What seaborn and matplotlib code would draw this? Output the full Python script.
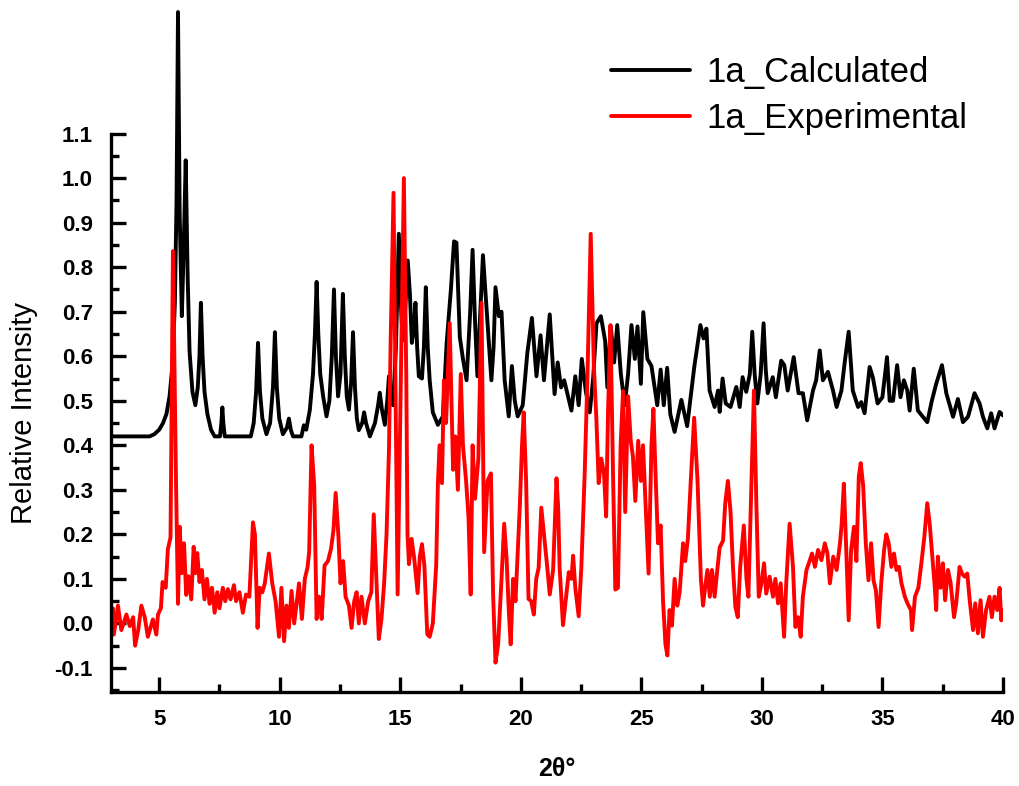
import matplotlib
matplotlib.use("Agg")
import matplotlib.pyplot as plt
from matplotlib.ticker import MultipleLocator
import seaborn as sns
import pandas as pd

# ---- data ----
calc_x = [3.0, 4.6, 4.8, 5.0, 5.16, 5.3, 5.43, 5.55, 5.65, 5.72, 5.78, 5.85, 5.94, 6.02, 6.1, 6.18,
          6.26, 6.38, 6.5, 6.6, 6.67, 6.73, 6.8, 6.88, 7.0, 7.15, 7.3, 7.52, 7.58, 7.62, 7.66, 7.72,
          8.8, 8.92, 9.02, 9.1, 9.18, 9.28, 9.45, 9.6, 9.72, 9.8, 9.88, 9.98, 10.13, 10.3, 10.38,
          10.46, 10.55, 10.9, 11.0, 11.1, 11.25, 11.38, 11.46, 11.53, 11.6, 11.68, 11.8, 11.94,
          12.06, 12.16, 12.25, 12.33, 12.42, 12.52, 12.62, 12.7, 12.78, 12.87, 12.96, 13.04, 13.12,
          13.2, 13.28, 13.42, 13.5, 13.58, 13.74, 13.95, 14.08, 14.15, 14.24, 14.36, 14.46, 14.53,
          14.62, 14.7, 14.82, 14.94, 15.04, 15.1, 15.2, 15.31, 15.4, 15.48, 15.56, 15.63, 15.7,
          15.77, 15.9, 15.98, 16.06, 16.14, 16.22, 16.35, 16.56, 16.77, 16.92, 17.1, 17.23, 17.33,
          17.47, 17.6, 17.75, 17.9, 18.0, 18.1, 18.2, 18.32, 18.43, 18.58, 18.78, 18.87, 18.95,
          19.09, 19.2, 19.33, 19.5, 19.63, 19.75, 19.87, 20.08, 20.27, 20.46, 20.65, 20.82, 20.96,
          21.2, 21.4, 21.53, 21.67, 21.8, 22.1, 22.26, 22.4, 22.53, 22.7, 22.86, 23.0, 23.14, 23.32,
          23.5, 23.59, 23.73, 23.87, 24.0, 24.15, 24.31, 24.45, 24.59, 24.73, 24.84, 24.98, 25.08,
          25.25, 25.42, 25.66, 25.8, 25.93, 26.07, 26.2, 26.38, 26.66, 26.9, 27.2, 27.45, 27.58,
          27.7, 27.83, 28.04, 28.18, 28.25, 28.37, 28.5, 28.7, 28.94, 29.08, 29.2, 29.35, 29.5,
          29.6, 29.7, 29.81, 29.95, 30.07, 30.16, 30.24, 30.45, 30.58, 30.8, 30.93, 31.07, 31.32,
          31.52, 31.7, 31.88, 32.12, 32.25, 32.4, 32.53, 32.74, 32.95, 33.1, 33.3, 33.43, 33.6,
          33.77, 33.99, 34.12, 34.26, 34.47, 34.6, 34.8, 35.0, 35.19, 35.3, 35.44, 35.61, 35.75,
          35.89, 36.03, 36.13, 36.3, 36.47, 36.68, 36.86, 37.05, 37.23, 37.47, 37.65, 37.93, 38.13,
          38.34, 38.55, 38.82, 39.03, 39.17, 39.35, 39.51, 39.65, 39.86, 40.0]
calc_y = [0.42, 0.42, 0.425, 0.435, 0.45, 0.47, 0.51, 0.58, 0.72, 0.95, 1.373, 0.92, 0.69, 0.85, 1.04, 0.78,
          0.61, 0.52, 0.49, 0.53, 0.60, 0.72, 0.60, 0.52, 0.47, 0.435, 0.42, 0.42, 0.45, 0.485, 0.45, 0.42,
          0.42, 0.45, 0.52, 0.63, 0.52, 0.46, 0.425, 0.45, 0.53, 0.654, 0.53, 0.46, 0.425, 0.44, 0.46,
          0.435, 0.42, 0.42, 0.445, 0.435, 0.48, 0.56, 0.65, 0.767, 0.65, 0.56, 0.51, 0.465,
          0.50, 0.60, 0.75, 0.60, 0.51, 0.56, 0.74, 0.60, 0.51, 0.48, 0.54, 0.654, 0.53,
          0.46, 0.434, 0.45, 0.474, 0.45, 0.42, 0.45, 0.49, 0.518, 0.48, 0.446, 0.50, 0.555,
          0.51, 0.49, 0.62, 0.875, 0.70, 0.636, 0.70, 0.815, 0.74, 0.63, 0.66, 0.72, 0.62,
          0.555, 0.55, 0.62, 0.755, 0.62, 0.546, 0.474, 0.446, 0.465, 0.627, 0.75, 0.858, 0.855,
          0.643, 0.594, 0.546, 0.70, 0.839, 0.68, 0.555, 0.70, 0.827, 0.707, 0.546, 0.62, 0.755,
          0.69, 0.70, 0.546, 0.465, 0.578, 0.50, 0.465, 0.49, 0.607, 0.686, 0.555, 0.647, 0.546,
          0.694, 0.515, 0.586, 0.53, 0.546, 0.478, 0.555, 0.49, 0.594, 0.52, 0.474, 0.55, 0.674, 0.69,
          0.634, 0.53, 0.667, 0.586, 0.67, 0.56, 0.49, 0.56, 0.67, 0.594, 0.667, 0.538, 0.699,
          0.594, 0.578, 0.49, 0.57, 0.49, 0.574, 0.47, 0.43, 0.502, 0.443, 0.578, 0.67, 0.64,
          0.662, 0.523, 0.486, 0.523, 0.475, 0.55, 0.494, 0.486, 0.531, 0.486, 0.553, 0.52, 0.56,
          0.655, 0.56, 0.494, 0.56, 0.674, 0.57, 0.517, 0.553, 0.508, 0.59, 0.58, 0.523, 0.598,
          0.517, 0.517, 0.456, 0.523, 0.546, 0.613, 0.546, 0.565, 0.523, 0.486, 0.523, 0.584, 0.655,
          0.523, 0.486, 0.497, 0.472, 0.576, 0.553, 0.494, 0.508, 0.598, 0.50, 0.50, 0.58, 0.508,
          0.546, 0.523, 0.478, 0.572, 0.478, 0.464, 0.452, 0.50, 0.538, 0.58, 0.517, 0.464, 0.504,
          0.452, 0.464, 0.517, 0.494, 0.464, 0.438, 0.472, 0.438, 0.475, 0.467]

exp_x = [3.0, 3.08, 3.12, 3.29, 3.43, 3.64, 3.78, 3.92, 4.0, 4.13, 4.26, 4.4, 4.53, 4.74, 4.88, 4.95,
         5.07, 5.14, 5.27, 5.36, 5.47, 5.57, 5.70, 5.78, 5.85, 5.94, 6.03, 6.12, 6.21, 6.33, 6.43,
         6.5, 6.58, 6.67, 6.77, 6.88, 6.98, 7.09, 7.19, 7.3, 7.41, 7.5, 7.64, 7.74, 7.85, 7.96, 8.1,
         8.19, 8.33, 8.47, 8.6, 8.74, 8.89, 8.97, 9.08, 9.17, 9.28, 9.38, 9.55, 9.69, 9.83, 9.97,
         10.07, 10.18, 10.28, 10.38, 10.49, 10.6, 10.69, 10.8, 10.92, 11.04, 11.15, 11.22, 11.32,
         11.43, 11.53, 11.63, 11.74, 11.86, 12.0, 12.13, 12.23, 12.32, 12.43, 12.52, 12.63, 12.73,
         12.87, 12.98, 13.09, 13.19, 13.28, 13.39, 13.53, 13.67, 13.8, 13.9, 14.0, 14.11, 14.22,
         14.33, 14.43, 14.53, 14.6, 14.72, 14.8, 14.89, 14.98, 15.15, 15.25, 15.3, 15.36, 15.47,
         15.58, 15.72, 15.81, 15.9, 16.0, 16.12, 16.22, 16.35, 16.49, 16.56, 16.63, 16.73, 16.81,
         16.9, 17.05, 17.19, 17.28, 17.39, 17.51, 17.6, 17.73, 17.83, 17.92, 18.0, 18.1, 18.24,
         18.37, 18.48, 18.62, 18.76, 18.85, 18.95, 19.06, 19.2, 19.31, 19.41, 19.5, 19.58, 19.68,
         19.78, 19.96, 20.05, 20.12, 20.22, 20.32, 20.43, 20.54, 20.64, 20.74, 20.85, 20.99, 21.1,
         21.2, 21.34, 21.48, 21.55, 21.61, 21.75, 21.89, 21.99, 22.1, 22.17, 22.26, 22.4, 22.51,
         22.65, 22.76, 22.9, 23.03, 23.13, 23.23, 23.34, 23.45, 23.54, 23.62, 23.72, 23.83, 23.92,
         24.03, 24.14, 24.24, 24.33, 24.45, 24.56, 24.65, 24.75, 24.87, 24.98, 25.07, 25.17, 25.3,
         25.42, 25.5, 25.58, 25.69, 25.8, 25.9, 26.0, 26.08, 26.17, 26.27, 26.38, 26.49, 26.59,
         26.73, 26.82, 26.93, 27.05, 27.19, 27.33, 27.47, 27.56, 27.63, 27.74, 27.84, 27.93, 28.04,
         28.15, 28.25, 28.39, 28.48, 28.59, 28.7, 28.8, 28.9, 29.0, 29.1, 29.25, 29.36, 29.44,
         29.55, 29.67, 29.77, 29.87, 29.98, 30.09, 30.18, 30.32, 30.46, 30.56, 30.67, 30.78, 30.92,
         31.01, 31.15, 31.29, 31.39, 31.5, 31.61, 31.7, 31.85, 31.99, 32.08, 32.2, 32.33, 32.47,
         32.61, 32.72, 32.82, 32.96, 33.1, 33.24, 33.31, 33.4, 33.5, 33.6, 33.7, 33.82, 33.92,
         34.02, 34.1, 34.2, 34.31, 34.42, 34.53, 34.63, 34.73, 34.84, 34.95, 35.07, 35.16, 35.26,
         35.37, 35.48, 35.58, 35.69, 35.79, 35.93, 36.04, 36.18, 36.23, 36.35, 36.49, 36.63, 36.74,
         36.86, 36.96, 37.05, 37.16, 37.23, 37.3, 37.41, 37.51, 37.6, 37.72, 37.83, 37.97, 38.06,
         38.2, 38.3, 38.41, 38.52, 38.62, 38.76, 38.85, 38.96, 39.07, 39.17, 39.3, 39.44, 39.54,
         39.65, 39.76, 39.86, 39.93, 40.0]
exp_y = [0.0, 0.034, -0.025, 0.04, -0.015, 0.02, -0.006, 0.014, -0.05, -0.015, 0.04, 0.014, -0.03, 0.009, -0.025, 0.02,
         0.034, 0.093, 0.08, 0.167, 0.193, 0.836, 0.31, 0.044, 0.217, 0.113, 0.18, 0.064, 0.106, 0.054, 0.172,
         0.113, 0.158, 0.093, 0.12, 0.054, 0.10, 0.044, 0.08, 0.024, 0.07, 0.034, 0.08, 0.05, 0.077, 0.054, 0.086,
         0.05, 0.07, 0.024, 0.065, 0.06, 0.227, 0.20, -0.01, 0.08, 0.07, 0.09, 0.157, 0.09, 0.049, -0.03,
         0.08, -0.04, 0.04, -0.01, 0.073, 0.0, 0.04, 0.09, 0.01, 0.10, 0.125, 0.16, 0.40,
         0.31, 0.01, 0.06, 0.01, 0.13, 0.14, 0.168, 0.21, 0.293, 0.20, 0.09, 0.14, 0.06,
         0.04, -0.01, 0.05, 0.07, 0.0, 0.06, 0.0, 0.05, 0.07, 0.245, 0.11, -0.035, 0.01,
         0.09, 0.2, 0.387, 0.63, 0.967, 0.55, 0.065, 0.39, 1.0, 0.55, 0.20, 0.133, 0.19,
         0.145, 0.068, 0.15, 0.178, 0.13, -0.024, -0.03, 0.0, 0.13, 0.313, 0.40, 0.315, 0.546,
         0.45, 0.674, 0.345, 0.42, 0.30, 0.56, 0.40, 0.32, 0.24, 0.065, 0.40, 0.28, 0.37,
         0.72, 0.16, 0.32, 0.337, 0.065, -0.088, -0.047, 0.1, 0.224, 0.145, 0.03, -0.047, 0.10,
         0.05, 0.265, 0.40, 0.474, 0.32, 0.055, 0.05, 0.02, 0.10, 0.125, 0.26, 0.185, 0.125,
         0.065, 0.12, 0.326, 0.26, 0.125, -0.004, 0.065, 0.115, 0.10, 0.152, 0.08, 0.016, 0.125,
         0.337, 0.546, 0.875, 0.578, 0.465, 0.315, 0.37, 0.337, 0.24, 0.48, 0.67, 0.32, 0.076,
         0.08, 0.40, 0.522, 0.25, 0.51, 0.41, 0.375, 0.275, 0.41, 0.32, 0.40, 0.275, 0.112,
         0.40, 0.482, 0.35, 0.18, 0.22, 0.05, -0.047, -0.072, 0.03, -0.005, 0.10, 0.04, 0.07,
         0.18, 0.14, 0.19, 0.32, 0.462, 0.32, 0.10, 0.04, 0.074, 0.12, 0.06, 0.12, 0.06,
         0.12, 0.171, 0.186, 0.27, 0.32, 0.25, 0.127, 0.037, 0.014, 0.127, 0.22, 0.10, 0.06,
         0.28, 0.523, 0.27, 0.06, 0.09, 0.135, 0.067, 0.105, 0.06, 0.10, 0.045, 0.09, -0.03,
         0.09, 0.224, 0.127, -0.008, 0.014, -0.03, 0.06, 0.12, 0.142, 0.157, 0.127, 0.165, 0.142,
         0.18, 0.157, 0.09, 0.15, 0.12, 0.18, 0.224, 0.314, 0.165, 0.007, 0.165, 0.217, 0.14,
         0.33, 0.36, 0.31, 0.18, 0.097, 0.18, 0.097, 0.074, -0.008, 0.09, 0.165, 0.2, 0.18,
         0.127, 0.157, 0.12, 0.127, 0.09, 0.06, 0.045, 0.03, -0.015, 0.06, 0.08, 0.142, 0.195,
         0.27, 0.224, 0.165, 0.09, 0.03, 0.15, 0.08, 0.135, 0.052, 0.12, 0.09, 0.014, 0.045,
         0.127, 0.112, 0.105, 0.112, 0.052, -0.015, 0.045, -0.022, 0.052, -0.03, 0.03, 0.06, 0.014,
         0.06, 0.03, 0.08, 0.007, 0.03]

series_names = ["1a_Calculated", "1a_Experimental"]
series_colors = ["#000000", "#ff0000"]
x_ticks = [5, 10, 15, 20, 25, 30, 35, 40]
y_ticks = [-0.1, 0.0, 0.1, 0.2, 0.3, 0.4, 0.5, 0.6, 0.7, 0.8, 0.9, 1.0, 1.1]

# ---- plotting ----
sns.set_theme(style="ticks")
plt.rcParams["font.family"] = ["Liberation Sans", "DejaVu Sans"]
plt.rcParams["lines.solid_joinstyle"] = "round"

fig = plt.figure(figsize=(10.2, 7.86), dpi=100)
ax = fig.add_axes([0.1088, 0.1196, 0.8745, 0.8804])

df_calc = pd.DataFrame({"x": calc_x, "y": calc_y})
df_exp = pd.DataFrame({"x": exp_x, "y": exp_y})
sns.lineplot(data=df_calc, x="x", y="y", ax=ax, color=series_colors[0], linewidth=2.8,
             label=series_names[0], estimator=None, sort=False)
sns.lineplot(data=df_exp, x="x", y="y", ax=ax, color=series_colors[1], linewidth=2.8,
             label=series_names[1], estimator=None, sort=False)

ax.set_xlim(3, 40)
ax.set_ylim(-0.154, 1.40)
ax.spines["left"].set_bounds(-0.154, 1.1)
ax.spines["top"].set_visible(False)
ax.spines["right"].set_visible(False)
for s in ["left", "bottom"]:
    ax.spines[s].set_linewidth(2.4)
    ax.spines[s].set_color("black")

ax.set_xticks(x_ticks)
ax.set_yticks(y_ticks)
ax.set_yticklabels([f"{v:.1f}" for v in y_ticks])
ax.xaxis.set_minor_locator(MultipleLocator(2.5))
ax.set_yticks([v + 0.05 for v in y_ticks[:-1]] + [-0.15], minor=True)
ax.tick_params(axis="both", which="major", direction="in", length=11, width=2.4,
               labelsize=16, colors="black")
ax.tick_params(axis="both", which="minor", direction="in", length=6, width=2.4, colors="black")
ax.tick_params(axis="y", which="major", pad=13)
ax.tick_params(axis="x", which="major", pad=12)
for lbl in ax.get_xticklabels() + ax.get_yticklabels():
    lbl.set_fontweight("bold")

ax.set_xlabel("2θ°", fontsize=18, fontweight="bold", labelpad=20, color="black")
ax.set_ylabel("Relative Intensity", fontsize=21, color="black")
ax.yaxis.set_label_coords(-0.082, 0.403)

leg = ax.legend(loc="upper left", bbox_to_anchor=(0.585, 0.946), bbox_transform=fig.transFigure,
                frameon=False, fontsize=25, handlelength=2.3, handletextpad=0.45,
                labelspacing=0.37, borderaxespad=0, labelcolor="black")
for line in leg.get_lines():
    line.set_linewidth(2.8)

fig.savefig("out.png", dpi=100, facecolor="white")
